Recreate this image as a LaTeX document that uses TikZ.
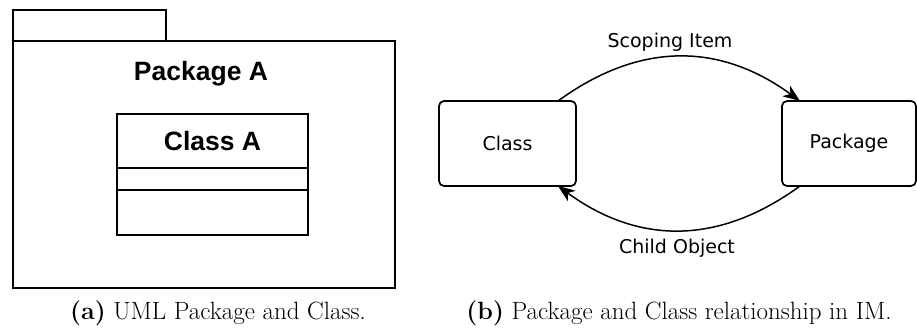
\documentclass[tikz,border=0pt]{standalone}
\usepackage{fontspec}
\newfontfamily\umlfont{Liberation Sans}
\newfontfamily\imfont{DejaVu Sans}
\usetikzlibrary{arrows.meta}
\tikzset{
  umlbox/.style={draw, line width=2.6pt, rectangle, anchor=north west, inner sep=0pt, outer sep=0pt},
  imbox/.style={draw, line width=1.7pt, rectangle, rounded corners=5pt, inner sep=0pt, outer sep=0pt, font=\imfont\fontsize{19}{22}\selectfont},
  umltitle/.style={font=\umlfont\bfseries\fontsize{26.5}{30}\selectfont, inner sep=0pt},
  imlabel/.style={font=\imfont\fontsize{19}{22}\selectfont, inner sep=0pt},
  caption/.style={font=\fontsize{25}{29}\selectfont, inner sep=0pt},
  rel/.style={line width=1.5pt, -{Stealth[length=17pt,width=13pt,inset=5pt]}}
}
\begin{document}
\begin{tikzpicture}[x=1pt,y=-1pt]
\useasboundingbox (0,0) rectangle (917,329);
% (a) UML package
\node[umlbox, minimum width=153pt, minimum height=31pt] (tab) at (13,10) {};
\node[umlbox, minimum width=382pt, minimum height=247pt] (body) at (13,41) {};
\node[umltitle] (ptitle) at (201,74) {Package A};
\node[umlbox, minimum width=191pt, minimum height=54pt] (chead) at (117,114) {};
\node[umlbox, minimum width=191pt, minimum height=22pt] (cattr) at (117,168) {};
\node[umlbox, minimum width=191pt, minimum height=45pt] (cops) at (117,190) {};
\node[umltitle] (ctitle) at (chead.center) {Class A};
\node[caption] (capa) at (218,313) {\textbf{(a)} UML Package and Class.};
% (b) IM relationship
\node[imbox, minimum width=137pt, minimum height=85pt] (cls) at (507.5,143.5) {Class};
\node[imbox, minimum width=134pt, minimum height=85pt] (pkg) at (849,143.5) {Package};
\draw[rel] ([xshift=-18pt]cls.north east) .. controls ([xshift=63pt,yshift=59pt]cls.north east) and ([xshift=-63pt,yshift=59pt]pkg.north west) .. ([xshift=18pt]pkg.north west);
\draw[rel] ([xshift=18pt]pkg.south west) .. controls ([xshift=-63pt,yshift=-59pt]pkg.south west) and ([xshift=63pt,yshift=-59pt]cls.south east) .. ([xshift=-18pt]cls.south east);
\node[imlabel] (lscope) at (670,42) {Scoping Item};
\node[imlabel] (lchild) at (677,248) {Child Object};
\node[caption] (capb) at (679,313) {\textbf{(b)} Package and Class relationship in IM.};
\end{tikzpicture}
\end{document}
